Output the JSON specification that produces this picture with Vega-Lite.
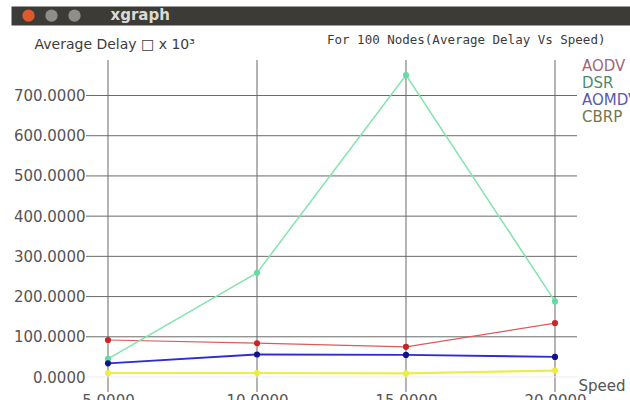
{
  "$schema": "https://vega.github.io/schema/vega-lite/v6.json",
  "width": 619,
  "height": 375,
  "autosize": "none",
  "padding": {"left": 11, "top": 25, "right": 0, "bottom": 0},
  "background": "#ffffff",
  "config": {
    "view": {"fill": "#c6c6c6", "stroke": null},
    "font": "DejaVu Sans"
  },
  "title": {
    "text": "For 100 Nodes(Average Delay Vs Speed)",
    "orient": "top",
    "anchor": "start",
    "frame": "group",
    "dx": 316,
    "offset": -45,
    "baseline": "middle",
    "font": "DejaVu Sans Mono",
    "fontSize": 12.5,
    "fontWeight": "normal",
    "color": "#3a3a3a"
  },
  "datasets": {
    "delays": [
      {"protocol": "AODV", "speed": 5, "delay": 92},
      {"protocol": "AODV", "speed": 10, "delay": 84},
      {"protocol": "AODV", "speed": 15, "delay": 75},
      {"protocol": "AODV", "speed": 20, "delay": 134},
      {"protocol": "DSR", "speed": 5, "delay": 45},
      {"protocol": "DSR", "speed": 10, "delay": 259},
      {"protocol": "DSR", "speed": 15, "delay": 751},
      {"protocol": "DSR", "speed": 20, "delay": 188},
      {"protocol": "AOMDV", "speed": 5, "delay": 34},
      {"protocol": "AOMDV", "speed": 10, "delay": 56},
      {"protocol": "AOMDV", "speed": 15, "delay": 55},
      {"protocol": "AOMDV", "speed": 20, "delay": 50},
      {"protocol": "CBRP", "speed": 5, "delay": 10},
      {"protocol": "CBRP", "speed": 10, "delay": 10},
      {"protocol": "CBRP", "speed": 15, "delay": 9},
      {"protocol": "CBRP", "speed": 20, "delay": 16}
    ],
    "speeds": [{"speed": 5}, {"speed": 10}, {"speed": 15}, {"speed": 20}],
    "levels": [
      {"delay": 0}, {"delay": 100}, {"delay": 200}, {"delay": 300},
      {"delay": 400}, {"delay": 500}, {"delay": 600}, {"delay": 700}
    ],
    "buttons": [{"button": "close"}, {"button": "minimize"}, {"button": "maximize"}]
  },
  "layer": [
    {
      "data": {"name": "speeds"},
      "mark": {"type": "rule", "color": "#6a6a6a", "strokeWidth": 1},
      "encoding": {
        "x": {
          "field": "speed",
          "type": "quantitative",
          "scale": {"domain": [1.745, 22.517], "nice": false, "zero": false},
          "axis": {
            "orient": "top",
            "offset": 9.5,
            "domain": true,
            "domainColor": "#3c3b37",
            "domainWidth": 19,
            "labels": false,
            "ticks": false,
            "grid": false,
            "title": "xgraph",
            "titleX": 99,
            "titleY": 3.5,
            "titleAlign": "left",
            "titleBaseline": "alphabetic",
            "titleAngle": 0,
            "titleFont": "DejaVu Sans",
            "titleFontWeight": "bold",
            "titleFontSize": 15,
            "titleColor": "#dcdbd3"
          }
        },
        "y": {
          "datum": 788.3,
          "scale": {"domain": [-57.19, 875.31], "nice": false, "zero": false}
        },
        "y2": {"datum": -37.3}
      }
    },
    {
      "data": {"name": "levels"},
      "mark": {"type": "rule", "strokeWidth": 1},
      "encoding": {
        "y": {
          "field": "delay",
          "type": "quantitative",
          "axis": {
            "orient": "left",
            "offset": -75,
            "values": [0, 100, 200, 300, 400, 500, 600, 700],
            "format": ".4f",
            "domain": false,
            "ticks": false,
            "tickSize": 0,
            "grid": false,
            "labelPadding": 1,
            "labelFont": "DejaVu Sans",
            "labelFontSize": 15,
            "labelColor": "#555555",
            "title": "Average Delay □  x 10³",
            "titleAngle": 0,
            "titleAlign": "left",
            "titleBaseline": "middle",
            "titleX": -52,
            "titleY": 19,
            "titleFont": "DejaVu Sans",
            "titleFontSize": 14,
            "titleFontWeight": "normal",
            "titleColor": "#3c3c3c"
          }
        },
        "x": {"datum": 4.262, "axis": null},
        "x2": {"datum": 20.738},
        "color": {
          "condition": {"test": "datum.delay === 0", "value": "#ededed"},
          "value": "#6a6a6a"
        }
      }
    },
    {
      "data": {"name": "buttons"},
      "mark": {"type": "text", "text": ""},
      "encoding": {
        "fill": {
          "field": "button",
          "type": "nominal",
          "scale": {
            "domain": ["close", "minimize", "maximize"],
            "range": ["#e0592e", "#8f8e89", "#8f8e89"]
          },
          "legend": {
            "orient": "none",
            "legendX": 11,
            "legendY": -16,
            "direction": "horizontal",
            "title": null,
            "padding": 0,
            "symbolType": "circle",
            "symbolSize": 150,
            "symbolStrokeWidth": 0,
            "symbolOpacity": 1,
            "labelExpr": "''",
            "labelOffset": 0,
            "columnPadding": 10
          }
        }
      }
    },
    {
      "data": {"name": "delays"},
      "mark": {"type": "line"},
      "encoding": {
        "x": {
          "field": "speed",
          "type": "quantitative",
          "scale": {"domain": [1.745, 22.517], "nice": false, "zero": false},
          "axis": {
            "orient": "bottom",
            "offset": -7,
            "values": [5, 10, 15, 20],
            "format": ".4f",
            "domain": false,
            "ticks": false,
            "tickSize": 0,
            "grid": false,
            "labelFlush": false,
            "labelPadding": 0,
            "labelBaseline": "top",
            "labelFont": "DejaVu Sans",
            "labelFontSize": 15,
            "labelColor": "#555555",
            "title": "Speed",
            "titleX": 567,
            "titleY": -8,
            "titleAlign": "left",
            "titleBaseline": "middle",
            "titleFont": "DejaVu Sans",
            "titleFontSize": 15,
            "titleFontWeight": "normal",
            "titleColor": "#555555"
          }
        },
        "y": {
          "field": "delay",
          "type": "quantitative",
          "scale": {"domain": [-57.19, 875.31], "nice": false, "zero": false}
        },
        "color": {
          "field": "protocol",
          "type": "nominal",
          "scale": {
            "domain": ["AODV", "DSR", "AOMDV", "CBRP"],
            "range": ["#d85c5c", "#84e4b0", "#2c2cd0", "#ecec50"]
          },
          "legend": {
            "orient": "none",
            "legendX": 556,
            "legendY": 33,
            "title": null,
            "padding": 0,
            "symbolType": "circle",
            "symbolSize": 0,
            "symbolOpacity": 0,
            "symbolStrokeWidth": 0,
            "labelOffset": 0,
            "rowPadding": 1,
            "labelFont": "DejaVu Sans",
            "labelFontSize": 15,
            "labelColor": {"expr": "datum.value === 'AODV' ? '#a06878' : datum.value === 'DSR' ? '#4e8a6a' : datum.value === 'AOMDV' ? '#5a5aaa' : '#76764a'"}
          }
        },
        "strokeWidth": {
          "field": "protocol",
          "type": "nominal",
          "scale": {
            "domain": ["AODV", "DSR", "AOMDV", "CBRP"],
            "range": [1.2, 2.2, 1.3, 2]
          },
          "legend": null
        }
      }
    },
    {
      "data": {"name": "delays"},
      "mark": {"type": "point", "filled": true, "opacity": 1, "size": 38},
      "encoding": {
        "x": {"field": "speed", "type": "quantitative", "axis": null},
        "y": {"field": "delay", "type": "quantitative"},
        "color": {
          "field": "protocol",
          "type": "nominal",
          "scale": {
            "domain": ["AODV", "DSR", "AOMDV", "CBRP"],
            "range": ["#cc2424", "#62dca0", "#12128c", "#eeee3a"]
          },
          "legend": null
        }
      }
    }
  ],
  "resolve": {"scale": {"color": "independent"}, "axis": {"x": "independent"}}
}
